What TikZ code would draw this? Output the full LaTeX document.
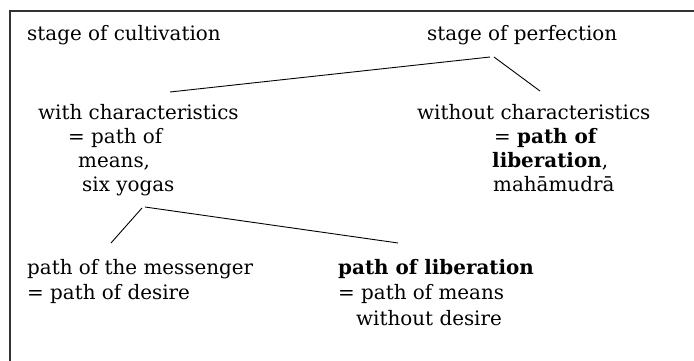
\documentclass[tikz,border=0pt]{standalone}
\usepackage{fontspec}
\setmainfont{DejaVu Serif}
\begin{document}
\begin{tikzpicture}[x=1pt,y=-1pt,
  txt/.style={anchor=base west, inner sep=0pt, font=\fontsize{19.9}{22}\selectfont},
  conn/.style={line width=0.9pt, black},
  frame/.style={line width=2pt, black!80}]
\useasboundingbox (0,0) rectangle (694,361);
\draw[frame] (10,361) -- (10,11) -- (694,11);
\node[txt] (cult) at (27,41) {stage of cultivation};
\node[txt] (perf) at (427,41) {stage of perfection};
\node[txt] (with) at (38,119) {with characteristics};
\node[txt] (with2) at (68,143) {= path of};
\node[txt] (with3) at (78,167) {means,};
\node[txt] (with4) at (82,191) {six yogas};
\node[txt] (wo) at (417,119) {without characteristics};
\node[txt] (wo2) at (494,143) {= \textbf{path of}};
\node[txt] (wo3) at (492,167) {\textbf{liberation},};
\node[txt] (wo4) at (493,191) {mahāmudrā};
\node[txt] (mess) at (27,274) {path of the messenger};
\node[txt] (mess2) at (27,299) {= path of desire};
\node[txt] (lib) at (338,274) {\textbf{path of liberation}};
\node[txt] (lib2) at (338,299) {= path of means};
\node[txt] (lib3) at (356,325) {without desire};
\coordinate (c1) at (170,92);
\coordinate (p1) at (490,57);
\coordinate (p2) at (494,57);
\coordinate (c2) at (540,91);
\coordinate (s1) at (142,208);
\coordinate (s2) at (111,243);
\coordinate (s0) at (145,207);
\coordinate (s3) at (398,243);
\draw[conn] (c1) -- (p1);
\draw[conn] (p2) -- (c2);
\draw[conn] (s1) -- (s2);
\draw[conn] (s0) -- (s3);
\end{tikzpicture}
\end{document}
